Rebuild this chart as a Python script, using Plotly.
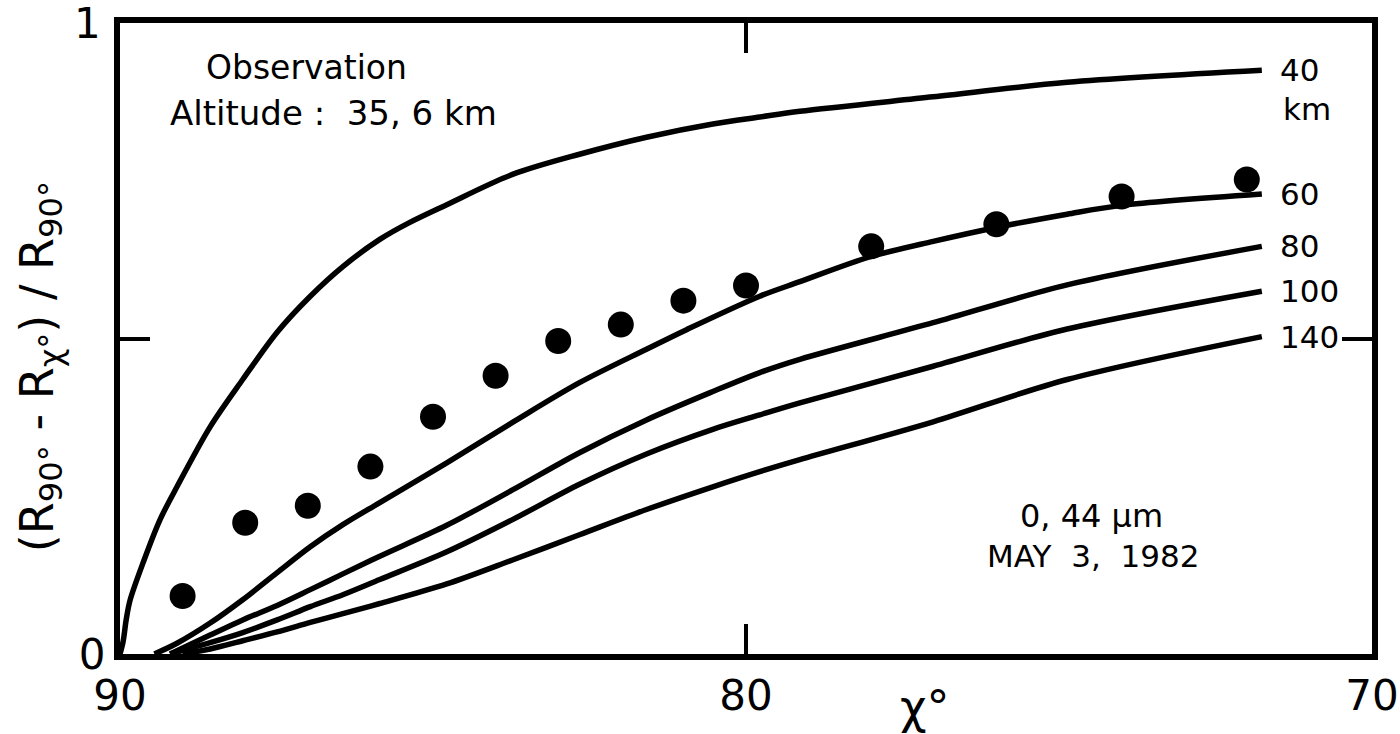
import plotly.graph_objects as go

# ---- data ----
chi_40 = [90, 89.95, 89.9, 89.84, 89.63, 89.36, 89.09, 88.56, 88.04, 87.49, 86.96, 86.44, 85.85,
          85.37, 84.78, 83.73, 82.66, 81.59, 80.53, 79.78, 79.14, 77.01, 74.87, 71.76]
v_40 = [0, 0.02, 0.055, 0.085, 0.145, 0.213, 0.265, 0.360, 0.435, 0.510, 0.567, 0.614, 0.657,
        0.684, 0.712, 0.760, 0.792, 0.819, 0.840, 0.851, 0.860, 0.883, 0.906, 0.925]

chi_60 = [89.45, 89.09, 88.56, 88.04, 87.49, 86.96, 86.44, 85.85, 84.78, 83.73, 82.66, 81.59,
          80.95, 79.78, 79.14, 78.0, 77.01, 76.0, 74.87, 74.0, 71.76]
v_60 = [0, 0.017, 0.049, 0.086, 0.129, 0.170, 0.205, 0.240, 0.303, 0.367, 0.430, 0.483,
        0.514, 0.567, 0.590, 0.630, 0.654, 0.676, 0.697, 0.711, 0.729]

chi_80 = [89.2, 88.56, 88.04, 87.49, 86.96, 86.44, 85.85, 84.78, 83.73, 82.66, 81.59, 80.53,
          79.78, 79.14, 77.01, 74.87, 71.76]
v_80 = [0, 0.030, 0.054, 0.077, 0.102, 0.127, 0.155, 0.204, 0.260, 0.319, 0.371, 0.416,
        0.446, 0.467, 0.525, 0.585, 0.646]

chi_100 = [89.2, 88.56, 88.04, 87.49, 86.96, 86.44, 85.85, 84.78, 83.73, 82.66, 81.59, 80.53,
           79.78, 79.14, 77.01, 74.87, 71.76]
v_100 = [0, 0.018, 0.034, 0.054, 0.075, 0.094, 0.118, 0.162, 0.213, 0.269, 0.317, 0.356,
         0.379, 0.398, 0.456, 0.515, 0.575]

chi_140 = [89.0, 88.56, 88.04, 87.49, 86.96, 86.44, 85.85, 84.78, 83.73, 82.66, 81.59, 80.53,
           79.78, 79.14, 77.01, 74.87, 71.76]
v_140 = [0, 0.008, 0.021, 0.035, 0.050, 0.064, 0.080, 0.111, 0.149, 0.189, 0.229, 0.265,
         0.289, 0.308, 0.368, 0.435, 0.503]

obs_chi = [89, 88, 87, 86, 85, 84, 83, 82, 81, 80, 78, 76, 74, 72]
obs_v = [0.092, 0.208, 0.235, 0.297, 0.376, 0.441, 0.496, 0.522, 0.560, 0.584, 0.646, 0.681, 0.725, 0.752]

curve_labels = ["40", "60", "80", "100", "140"]

x_tickvals = [90, 80, 70]
x_ticktext = ["90", "80", "70"]
y_tickvals = [0, 0.5, 1]
y_ticktext = ["0", "", ""]

FONT = "DejaVu Sans, sans-serif"
BLACK = "black"

fig = go.Figure()
curves = [(chi_40, v_40), (chi_60, v_60), (chi_80, v_80), (chi_100, v_100), (chi_140, v_140)]
for (cx, cv), lab in zip(curves, curve_labels):
    fig.add_trace(go.Scatter(x=cx, y=cv, mode="lines",
                             line=dict(color=BLACK, width=5.5, shape="spline", smoothing=0.9),
                             showlegend=False, hoverinfo="skip"))
    fig.add_annotation(x=71.5, y=cv[-1], text=lab, showarrow=False, xanchor="left", yanchor="middle",
                       font=dict(family=FONT, size=31, color=BLACK))

fig.add_trace(go.Scatter(x=obs_chi, y=obs_v, mode="markers",
                         marker=dict(color=BLACK, size=26), showlegend=False))

fig.add_annotation(x=71.45, y=v_40[-1] - 0.062, text="km", showarrow=False, xanchor="left", yanchor="middle",
                   font=dict(family=FONT, size=31, color=BLACK))

# top y tick label
fig.add_annotation(xref="paper", yref="y", x=-0.026, y=1, text="1", showarrow=False,
                   xanchor="center", yanchor="middle", font=dict(family=FONT, size=42, color=BLACK))

# axis titles (placed where the reference has them)
fig.add_annotation(xref="paper", yref="paper", x=-0.064, y=0.456, textangle=-90,
                   text="(R<sub>90°</sub> - R<sub>χ°</sub>) / R<sub>90°</sub>", showarrow=False,
                   xanchor="center", yanchor="middle", font=dict(family=FONT, size=46, color=BLACK))
fig.add_annotation(xref="paper", yref="paper", x=0.643, y=-0.084, text="χ°", showarrow=False,
                   xanchor="center", yanchor="middle", font=dict(family=FONT, size=46, color=BLACK))

fig.add_annotation(xref="paper", yref="paper", x=0.149, y=0.929, text="Observation", showarrow=False,
                   xanchor="center", yanchor="middle", font=dict(family=FONT, size=33, color=BLACK))
fig.add_annotation(xref="paper", yref="paper", x=0.038, y=0.857, text="Altitude :  35, 6 km", showarrow=False,
                   xanchor="left", yanchor="middle", font=dict(family=FONT, size=34, color=BLACK))
fig.add_annotation(xref="paper", yref="paper", x=0.776, y=0.218, text="0, 44 µm", showarrow=False,
                   xanchor="center", yanchor="middle", font=dict(family=FONT, size=32, color=BLACK))
fig.add_annotation(xref="paper", yref="paper", x=0.777, y=0.155, text="MAY  3,  1982", showarrow=False,
                   xanchor="center", yanchor="middle", font=dict(family=FONT, size=31, color=BLACK))

fig.update_xaxes(range=[90, 70], tickvals=x_tickvals, ticktext=x_ticktext,
                 ticks="inside", ticklen=30, tickwidth=4, tickcolor=BLACK,
                 showline=True, linecolor=BLACK, linewidth=6, mirror="ticks",
                 showgrid=False, zeroline=False, automargin=False,
                 tickfont=dict(family=FONT, size=42, color=BLACK))
fig.update_yaxes(range=[0, 1], tickvals=y_tickvals, ticktext=y_ticktext,
                 ticks="inside", ticklen=30, tickwidth=4, tickcolor=BLACK,
                 showline=True, linecolor=BLACK, linewidth=6, mirror="ticks",
                 showgrid=False, zeroline=False, automargin=False,
                 tickfont=dict(family=FONT, size=42, color=BLACK))

fig.update_layout(width=1400, height=734, margin=dict(l=120, r=28, t=23, b=80, autoexpand=False),
                  plot_bgcolor="white", paper_bgcolor="white")

fig.write_html("out.html")
